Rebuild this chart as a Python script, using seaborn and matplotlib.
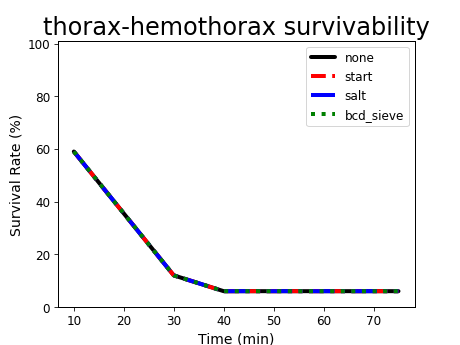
import matplotlib
matplotlib.use("Agg")
import matplotlib.pyplot as plt
import seaborn as sns
import pandas as pd

sns.set_style("white")
plt.rcParams['font.family'] = ['DejaVu Sans']
plt.rcParams['text.color'] = 'black'
plt.rcParams['axes.labelcolor'] = 'black'
plt.rcParams['xtick.color'] = 'black'
plt.rcParams['ytick.color'] = 'black'

time_min = [10, 30, 40, 50, 60, 75]
none_vals = [59, 12, 6, 6, 6, 6]
start_vals = [59, 12, 6, 6, 6, 6]
salt_vals = [59, 12, 6, 6, 6, 6]
bcd_vals = [59, 12, 6, 6, 6, 6]

series = {"none": none_vals, "start": start_vals, "salt": salt_vals, "bcd_sieve": bcd_vals}
colors = {"none": "black", "start": "red", "salt": "blue", "bcd_sieve": "green"}
styles = {"none": "-", "start": "--", "salt": "-.", "bcd_sieve": ":"}

fig, ax = plt.subplots(figsize=(6.4, 4.8), dpi=72)
for name, vals in series.items():
    df = pd.DataFrame({"t": time_min, "v": vals})
    sns.lineplot(data=df, x="t", y="v", ax=ax, color=colors[name], linestyle=styles[name],
                 linewidth=4, label=name)

for s in ax.spines.values():
    s.set_color("black")
    s.set_linewidth(1)
ax.set_ylim(0, 101)
ax.set_yticks([0, 20, 40, 60, 80, 100])
ax.set_xticks([10, 20, 30, 40, 50, 60, 70])
ax.tick_params(axis="both", labelsize=12, length=4, left=True, bottom=True, color="black",
               labelcolor="black")
ax.set_xlabel("Time (min)", fontsize=14, color="black")
ax.set_ylabel("Survival Rate (%)", fontsize=14, color="black")
ax.set_title("thorax-hemothorax survivability", fontsize=24, color="black")
leg = ax.legend(loc="upper right", fontsize=12)
for t in leg.get_texts():
    t.set_color("black")
fig.savefig("out.png", dpi=72)
